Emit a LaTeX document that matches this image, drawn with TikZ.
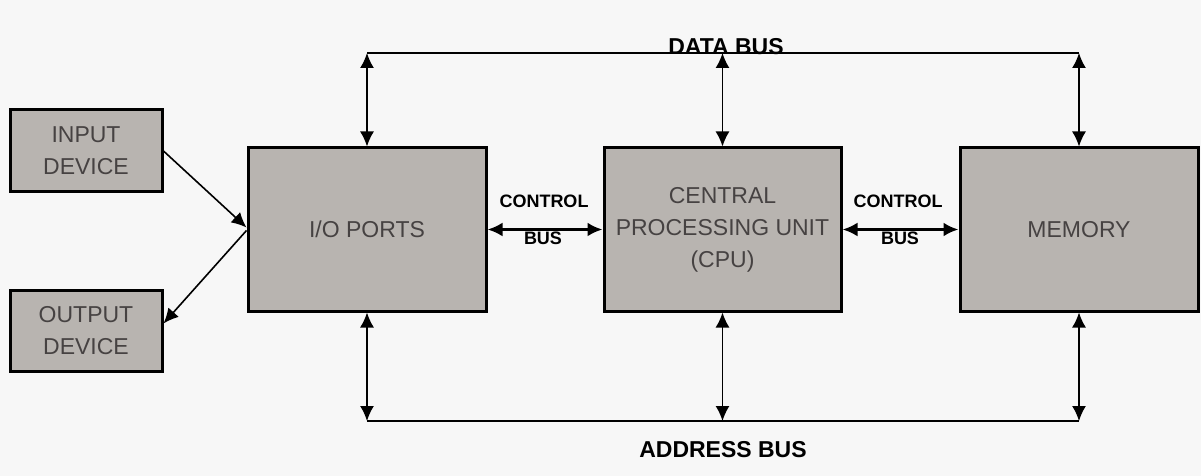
\documentclass[tikz,border=0pt]{standalone}
\usepackage{fontspec}
\setmainfont{Liberation Sans}
\usetikzlibrary{arrows.meta}
\tikzset{>={Latex[length=7.5pt,width=7pt]}}
\definecolor{boxgray}{RGB}{184,180,176}
\definecolor{txtgray}{RGB}{70,66,66}
\definecolor{bggray}{RGB}{247,247,247}

\begin{document}
\begin{tikzpicture}[x=0.5pt, y=-0.5pt,
  unit/.style={draw, line width=1.5pt, fill=boxgray, text=txtgray, align=center,
    font=\fontsize{11.5}{16}\selectfont, inner sep=0pt},
  buslabel/.style={font=\bfseries\fontsize{11.5}{13}\selectfont, inner sep=0pt},
  ctrllabel/.style={font=\bfseries\fontsize{9}{11}\selectfont, inner sep=0pt},
  bus/.style={line width=0.8pt},
  ctrl/.style={<->, line width=1.5pt}]
\fill[bggray] (0,0) rectangle (1201,476);
\useasboundingbox (0,0) rectangle (1201,476);

% devices
\node[unit, minimum width=76pt, minimum height=41pt] (input) at (86,151) {INPUT\\DEVICE};
\node[unit, minimum width=76pt, minimum height=40.5pt] (output) at (86,330.5) {OUTPUT\\DEVICE};

% main units
\node[unit, minimum width=119pt, minimum height=81.5pt] (io) at (367,229.5) {I/O PORTS};
\node[unit, minimum width=118.5pt, minimum height=81.5pt] (cpu) at (722.5,229.5) {CENTRAL\\PROCESSING UNIT\\(CPU)};
\node[unit, minimum width=119pt, minimum height=81.5pt] (mem) at (1079,229.5) {MEMORY};

\draw[->, bus] (input.east) -- ([yshift=1pt]io.west);
\draw[->, bus] ([yshift=-0.5pt]io.west) -- ([yshift=3.5pt]output.east);

% buses
\coordinate (dbus) at (0,53);
\coordinate (abus) at (0,421);
\draw[bus] (io.north |- dbus) -- (mem.north |- dbus);
\draw[bus] (io.south |- abus) -- (mem.south |- abus);
\foreach \u in {io, cpu, mem} {
  \draw[<->, bus] (\u.north |- dbus) -- (\u.north);
  \draw[<->, bus] (\u.south) -- (\u.south |- abus);
}
\node[buslabel, anchor=base] (databus) at (726,55) {DATA BUS};
\node[buslabel, anchor=base] (addrbus) at (723,457) {ADDRESS BUS};

% control buses
\draw[ctrl] (io.east) -- (cpu.west);
\draw[ctrl] (cpu.east) -- (mem.west);
\node[ctrllabel, anchor=base] (ctrla) at (544,207) {CONTROL};
\node[ctrllabel, anchor=base] (busa) at (543,245) {BUS};
\node[ctrllabel, anchor=base] (ctrlb) at (898,207) {CONTROL};
\node[ctrllabel, anchor=base] (busb) at (900,245) {BUS};
\end{tikzpicture}
\end{document}
